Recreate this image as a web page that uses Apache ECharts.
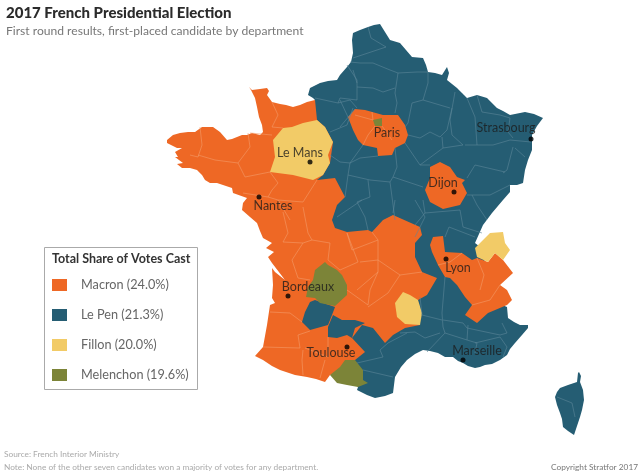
<!DOCTYPE html>
<html><head><meta charset="utf-8">
<script src="https://cdn.jsdelivr.net/npm/echarts@6/dist/echarts.min.js"></script>
<style>html,body{margin:0;padding:0;background:#fff}#c{width:640px;height:476px}</style>
</head><body><div id="c"></div>
<script>
// Map geometry, in map units (y grows southwards)
const coastWest=[[315,100],[307,102],[300,105],[293,107],[286,105],[280,104],[272,102],[267,95],[269,91],[267,88],[260,89],[252,90],[249,87],[251,90],[255,98],[257,107],[259,117],[262,125],[263,132],[260,135],[252,133],[247,135],[242,135],[232,139],[227,140],[220,132],[213,127],[210,127],[202,127],[195,132],[188,132],[180,133],[173,135],[167,140],[167,143],[177,148],[182,148],[175,152],[178,157],[175,157],[183,163],[177,164],[182,168],[190,168],[197,170],[202,175],[205,180],[210,183],[217,183],[223,185],[232,188],[233,193],[247,198],[243,203],[242,210],[250,217],[257,223],[260,231],[263,238],[272,243],[266,248],[274,252],[268,257],[272,263],[285,280],[275,272],[272,268],[273,285],[272,298],[275,303],[270,305],[267,325],[263,347],[255,356],[263,360],[272,366],[280,370],[295,375],[307,377],[316,379],[325,382]];
const coastSouth=[[358,387],[357,390],[367,395],[375,398],[385,396],[393,393],[394,385],[395,377],[401,367],[407,360],[415,354],[423,350],[430,351],[438,353],[445,357],[453,357],[458,361],[463,363],[468,366],[475,368],[480,367],[485,365],[492,364],[500,360],[507,355],[510,349],[515,343],[522,335],[528,328],[528,325],[520,325],[514,322],[508,318],[507,307]];
const coastNorth=[[475,243],[479,234],[483,225],[492,213],[503,200],[510,192],[510,185],[517,185],[523,183],[525,170],[528,160],[532,150],[532,135],[537,126],[543,118],[534,114],[525,112],[510,115],[503,111],[497,108],[487,98],[477,95],[467,98],[462,93],[457,88],[447,80],[449,73],[447,67],[442,75],[435,73],[428,72],[426,65],[423,58],[412,57],[406,50],[400,43],[390,40],[385,32],[380,24],[374,25],[368,27],[360,30],[353,33],[352,40],[353,53],[351,62],[347,67],[340,75],[337,80],[328,81],[320,83],[310,88],[308,95],[313,98],[315,100]];
const alpsInset=[[490,300],[485,270],[484,250]];
const inlandBlue=[[300,140],[300,200],[330,300],[345,370]];
const westInland=[[330,375],[345,372],[355,360],[365,352],[352,338],[362,325],[373,328],[385,343],[393,335],[405,328],[420,325],[418,300],[427,295],[437,278],[422,272],[415,257],[415,243],[422,235],[420,227],[393,215],[383,220],[372,232],[368,230],[347,232],[335,228],[332,220],[337,205],[345,197],[335,178],[317,180],[323,175],[330,163],[333,142],[325,127],[317,120]];
const corsica=[[579,372],[581,376],[580,382],[583,390],[584,400],[582,410],[580,417],[577,426],[574,435],[568,431],[563,427],[562,419],[560,413],[557,405],[555,397],[557,392],[560,388],[568,385],[577,382],[578,373]];
const lotGaronne=[[310,302],[305,312],[302,322],[310,330],[328,325],[332,315],[335,307],[323,303],[315,300]];
const tarn=[[333,315],[328,327],[328,337],[337,338],[347,335],[352,338],[355,328],[365,323],[355,320],[342,320]];
const paris=[[355,109],[348,117],[353,130],[358,140],[363,145],[377,148],[378,156],[392,155],[395,148],[405,143],[408,135],[405,125],[398,115],[383,115],[365,110]];
const dijon=[[440,162],[430,167],[430,178],[425,190],[430,202],[443,209],[460,205],[467,193],[462,183],[465,180],[457,177],[450,167]];
const alps=[[433,237],[443,236],[445,252],[462,253],[472,260],[477,258],[488,262],[495,253],[503,260],[513,273],[500,285],[507,290],[512,300],[507,305],[488,313],[477,323],[465,315],[472,305],[465,297],[457,285],[450,278],[445,277],[438,265],[432,252],[430,245]];
const sarthe=[[317,120],[303,123],[292,127],[283,128],[273,140],[275,157],[270,172],[293,175],[313,180],[323,175],[330,163],[328,155],[333,142],[325,127]];
const lozere=[[403,292],[395,303],[397,317],[405,324],[420,325],[422,313],[418,300],[410,295]];
const savoie=[[475,248],[490,233],[503,232],[505,243],[510,250],[503,260],[495,253],[488,262],[477,257]];
const dordogne=[[325,262],[315,270],[313,280],[308,287],[306,297],[315,298],[320,303],[335,306],[347,295],[347,285],[342,275],[337,270],[328,265]];
const ariege=[[330,375],[340,367],[345,360],[355,360],[363,370],[363,380],[368,383],[358,387],[347,385],[337,383]];
const seineStDenis=[[373,120],[382,118],[382,126],[375,126]];
const mainland=coastSouth.concat(alpsInset,coastNorth,inlandBlue);
const westMass=coastWest.concat(westInland);

const blueBorders=[
[[368,27],[371,38],[386,47],[377,50],[353,58]],
[[350,62],[360,63],[373,63],[390,70],[398,73],[417,72],[428,72]],
[[398,73],[395,93],[397,103],[395,113]],
[[347,65],[357,80],[357,87],[373,88],[383,92],[395,88]],
[[357,87],[357,100],[340,98],[338,103]],
[[428,72],[428,83],[423,100]],
[[412,103],[423,100],[450,108]],
[[412,103],[408,123],[405,127]],
[[408,135],[420,138],[430,132],[440,137],[447,130],[452,108]],
[[455,92],[450,120],[452,135],[463,145]],
[[467,98],[475,117],[477,145]],
[[465,145],[493,145],[510,140]],
[[477,95],[482,112],[500,115],[510,118],[508,132],[513,138]],
[[510,140],[531,142]],
[[513,147],[507,170],[503,173]],
[[525,157],[515,148]],
[[505,172],[475,165],[467,178]],
[[442,137],[443,148],[463,145]],
[[420,165],[443,148]],
[[405,143],[420,165],[430,165]],
[[467,195],[490,195],[510,185]],
[[472,195],[477,205],[487,220]],
[[395,148],[397,167],[393,177],[423,187]],
[[378,156],[360,158],[350,163],[348,175],[370,180],[390,182],[393,177]],
[[390,182],[392,197],[395,220]],
[[368,180],[370,197],[357,202],[365,217],[368,230]],
[[330,155],[340,162],[350,163]],
[[355,109],[340,127]],
[[348,117],[340,100]],
[[363,145],[350,163]],
[[315,98],[338,103],[350,100],[357,108]],
[[353,108],[347,125],[330,132]],
[[353,70],[357,83]],
[[348,175],[345,197]],
[[362,200],[337,217]],
[[395,200],[393,213]],
[[415,200],[425,217],[415,237]],
[[423,200],[425,213],[415,225]],
[[425,213],[460,210],[463,227],[482,233]],
[[449,227],[475,237]],
[[449,227],[445,237]],
[[445,277],[442,313],[443,327],[445,333],[427,352]],
[[420,297],[422,315],[442,320]],
[[400,333],[415,332],[425,338],[440,333]],
[[443,320],[463,323],[467,328],[500,335],[507,333],[502,323]],
[[445,333],[467,340],[477,343],[475,353]],
[[475,343],[500,337],[507,347],[503,357]],
[[468,325],[467,340]],
[[357,363],[383,357],[380,350],[388,343],[407,333]],
[[363,370],[393,377]],
[[557,397],[572,403],[575,417]]
];
const orangeBorders=[
[[272,102],[278,115],[272,127],[283,128]],
[[200,127],[202,145],[198,157],[190,155]],
[[198,155],[215,160],[238,163],[245,177]],
[[248,133],[250,147],[238,163]],
[[245,177],[270,172],[278,183],[272,190],[268,197],[243,193]],
[[250,133],[272,135]],
[[268,197],[278,200],[303,202],[317,180]],
[[278,200],[290,220]],
[[283,212],[288,233],[283,242]],
[[303,207],[308,233],[312,240],[303,243],[283,242]],
[[303,243],[292,260],[298,278],[310,280]],
[[330,243],[312,240]],
[[330,243],[328,260],[340,270],[358,262],[347,233]],
[[347,233],[352,250],[378,240],[372,232]],
[[360,262],[378,260],[378,272],[357,290]],
[[378,240],[378,260],[400,275],[422,272]],
[[378,272],[370,290],[368,305],[347,290]],
[[400,275],[388,293],[368,307]],
[[270,312],[290,313],[302,322]],
[[263,347],[300,348],[298,335],[310,331]],
[[328,337],[328,357],[305,348]],
[[303,350],[302,360],[303,375]],
[[325,360],[320,378]],
[[438,265],[450,262],[462,253]],
[[472,305],[490,300],[500,285]],
[[477,258],[484,275],[480,290]]
];
const parisBorders=[[[355,115],[373,120]],[[375,126],[368,135],[363,145]],[[382,126],[392,140]],[[372,112],[373,120]]];

const candidates=["Macron (24.0%)","Le Pen (21.3%)","Fillon (20.0%)","Melenchon (19.6%)"];
const cityNames=["Le Mans","Nantes","Strasbourg","Dijon","Lyon","Bordeaux","Toulouse","Marseille"];
const cityPoints=[[310,162],[259,197],[531,139],[454,192],[446,259],[288,296],[347,347],[463,360]];
const labelNames=["Le Mans","Nantes","Paris","Strasbourg","Dijon","Lyon","Bordeaux","Toulouse","Marseille"];
const labelPoints=[[300,153],[273,206],[387,133],[506,128],[443,183],[458,268],[308,287],[331,353],[477,351]];

const colors=["#EE6825","#255D73","#F2CB67","#7C8438"];
const layers=[
["mainland",mainland,1],["corsica",corsica,1],["westMass",westMass,0],
["lotGaronne",lotGaronne,1],["tarn",tarn,1],["paris",paris,0],["dijon",dijon,0],["alps",alps,0],
["sarthe",sarthe,2],["lozere",lozere,2],["savoie",savoie,2],
["dordogne",dordogne,3],["ariege",ariege,3],["seineStDenis",seineStDenis,3]];
const flip=p=>[p[0],-p[1]];
echarts.registerMap("france",{type:"FeatureCollection",features:layers.map(l=>{
  const ring=l[1].map(flip);ring.push(ring[0]);
  return {type:"Feature",properties:{name:l[0]},geometry:{type:"Polygon",coordinates:[ring]}};
})});
const FONT="Lato";
const legendG=[{type:"rect",shape:{x:44.5,y:247.5,width:153,height:142},style:{fill:"#fff",stroke:"#aaa",lineWidth:1}},
{type:"text",style:{x:52,y:259,text:"Total Share of Votes Cast",font:"bold 12.5px "+FONT,fill:"#333",textVerticalAlign:"middle"}}];
candidates.forEach((c,i)=>{
  legendG.push({type:"rect",shape:{x:52,y:279+30*i,width:15,height:12},style:{fill:colors[i]}});
  legendG.push({type:"text",style:{x:81,y:285+30*i,text:c,font:"12.7px "+FONT,fill:"#666",textVerticalAlign:"middle"}});
});
const borderSeries=(name,d,color)=>({type:"lines",name,coordinateSystem:"geo",polyline:true,silent:true,z:3,
  data:d.map(b=>({coords:b.map(flip)})),lineStyle:{color,width:0.6,opacity:1},effect:{show:false}});
const foot={fontFamily:FONT,fontWeight:"normal",fontSize:8.3,color:"#aaa"};
const chart=echarts.init(document.getElementById("c"),null,{renderer:"canvas"});
chart.setOption({animation:false,backgroundColor:"#fff",
 title:[
  {text:"2017 French Presidential Election",left:6,top:6,padding:0,textStyle:{fontFamily:FONT,fontWeight:900,fontSize:15,color:"#2b2b2b"}},
  {text:"First round results, first-placed candidate by department",left:6,top:25,padding:0,textStyle:{fontFamily:FONT,fontWeight:"normal",fontSize:12.1,color:"#777"}},
  {text:"Source: French Interior Ministry",left:4,top:450,padding:0,textStyle:foot},
  {text:"Note: None of the other seven candidates won a majority of votes for any department.",left:4,top:463,padding:0,textStyle:foot},
  {text:"Copyright Stratfor 2017",right:2,top:463,padding:0,textStyle:Object.assign({},foot,{color:"#777"})}
 ],
 geo:{map:"france",roam:false,left:0,top:0,width:640,height:476,aspectScale:1,boundingCoords:[[0,0],[640,-476]],silent:true,
  label:{show:false},itemStyle:{borderWidth:0,areaColor:colors[1]},
  regions:layers.map(l=>({name:l[0],itemStyle:{areaColor:colors[l[2]],borderWidth:0}}))},
 graphic:legendG,
 series:[
  borderSeries("blue",blueBorders,"#5C8799"),
  borderSeries("orange",orangeBorders,"#F49A68"),
  borderSeries("paris",parisBorders,"#F49A68"),
  {type:"scatter",coordinateSystem:"geo",z:5,silent:true,symbolSize:5,itemStyle:{color:"#000"},data:cityPoints.map((p,i)=>({name:cityNames[i],value:flip(p)}))},
  {type:"scatter",coordinateSystem:"geo",z:6,silent:true,symbolSize:0,data:labelPoints.map((p,i)=>({name:labelNames[i],value:flip(p)})),
   label:{show:true,position:"inside",formatter:"{b}",fontFamily:FONT,fontSize:12.5,color:"#1c1c1c"}}
 ]});
</script></body></html>
